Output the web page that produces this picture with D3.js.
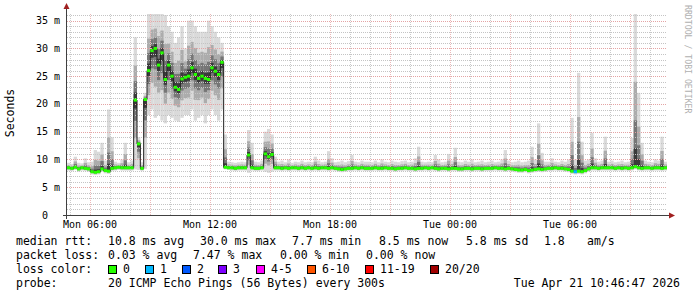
<!DOCTYPE html>
<html>
<head>
<meta charset="utf-8">
<script src="https://cdn.jsdelivr.net/npm/d3@7"></script>
<style>
  body { margin: 0; background: #fff; }
  svg { display: block; }
</style>
</head>
<body>
<div id="chart"></div>
<script>
// time window shown (30 hours), one sample every 10 minutes
const startTime = new Date(2026, 3, 20, 4, 51);
const endTime = new Date(2026, 3, 21, 10, 51);
const stepMinutes = 10;

// median rtt in ms, one row = 3 hours
const medianRtt = [
  8.5, 8.4, 8.6, 8.3, 8.5, 8.4, 8.3, 7.8, 7.7, 7.8, 8.3, 8.0, 7.9, 8.4, 8.5, 8.6, 8.5, 8.5,
  8.5, 8.5, 20.7, 12.8, 8.4, 20.8, 26.0, 29.6, 30.0, 27.0, 29.2, 24.4, 27.0, 25.0, 23.0, 22.6, 24.5, 24.8,
  25.0, 26.5, 25.3, 24.6, 25.0, 24.6, 24.4, 26.5, 25.9, 25.3, 27.5, 8.6, 8.5, 8.5, 8.4, 8.5, 8.5, 8.5,
  10.8, 8.5, 8.4, 8.4, 8.5, 11.0, 10.5, 10.9, 8.5, 8.5, 8.4, 8.5, 8.4, 8.5, 8.5, 8.4, 8.5, 8.4,
  8.5, 8.4, 8.5, 8.4, 8.5, 8.5, 8.4, 8.5, 8.4, 8.3, 8.2, 8.3, 8.4, 8.4, 8.5, 8.4, 8.5, 8.4,
  8.4, 8.4, 8.5, 8.4, 8.4, 8.5, 8.4, 8.4, 8.3, 8.4, 8.4, 8.5, 8.4, 8.4, 8.3, 8.4, 8.4, 8.5,
  8.4, 8.5, 8.4, 8.3, 8.4, 8.4, 8.3, 8.4, 8.4, 8.3, 8.3, 8.4, 8.4, 8.3, 8.4, 8.4, 8.3, 8.4,
  8.4, 8.4, 8.5, 8.4, 8.4, 8.3, 8.4, 8.3, 8.2, 8.1, 8.1, 8.2, 8.0, 8.1, 8.2, 8.3, 8.2, 8.3,
  8.4, 8.4, 8.5, 8.4, 8.4, 8.3, 8.2, 7.9, 7.8, 7.9, 7.8, 8.0, 8.3, 8.5, 8.5, 8.4, 8.5, 8.5,
  8.5, 8.5, 8.4, 8.5, 8.4, 8.5, 8.4, 8.5, 8.7, 8.5, 8.4, 8.5, 8.5, 8.4, 8.5, 8.5, 8.4, 8.5
];

// slowest ping of each sample (top of the smoke)
const smokeHigh = [
  9.4, 9.2, 10.5, 9.4, 9.3, 10.2, 9.5, 9.6, 11.7, 11.4, 13.0, 9.8, 19.0, 14.0, 9.6, 9.4, 10.0, 13.0,
  9.5, 9.8, 32.0, 14.0, 9.5, 22.0, 36.5, 36.5, 36.5, 36.5, 36.5, 36.0, 34.0, 33.0, 31.0, 32.0, 34.0, 30.0,
  35.0, 35.0, 34.0, 33.0, 33.0, 33.0, 35.0, 34.0, 33.0, 32.0, 31.0, 14.5, 9.6, 9.5, 9.4, 9.5, 9.6, 9.5,
  15.3, 13.0, 9.6, 9.5, 9.8, 15.0, 15.5, 14.5, 10.5, 9.6, 9.8, 9.5, 10.0, 9.4, 9.6, 9.5, 9.8, 9.5,
  9.6, 9.5, 10.5, 9.8, 9.5, 9.6, 11.5, 10.2, 9.5, 9.6, 9.8, 9.5, 9.7, 10.8, 9.6, 9.5, 9.8, 9.6,
  9.6, 9.5, 9.8, 9.5, 10.0, 9.6, 9.5, 9.8, 9.6, 9.5, 9.7, 9.8, 9.5, 9.6, 10.2, 12.3, 9.6, 9.5,
  9.6, 9.5, 10.8, 10.0, 9.5, 9.6, 11.0, 9.8, 12.1, 9.6, 9.5, 9.8, 9.6, 10.0, 9.5, 9.6, 9.8, 9.5,
  9.6, 9.8, 9.5, 9.6, 10.0, 11.7, 9.8, 9.5, 9.6, 9.8, 9.5, 9.6, 9.8, 12.3, 10.0, 16.5, 11.2, 9.6,
  9.6, 10.2, 9.6, 9.5, 9.8, 9.6, 10.0, 17.5, 10.0, 25.6, 13.2, 9.8, 10.0, 14.8, 10.2, 9.6, 9.8, 14.1,
  9.6, 9.8, 9.5, 9.6, 9.8, 9.5, 9.6, 13.9, 36.5, 22.0, 13.0, 9.8, 9.6, 9.5, 10.0, 9.8, 14.1, 9.6
];

// fastest ping of each sample (bottom of the smoke)
const smokeLow = [
  8.0, 7.9, 8.1, 7.8, 8.0, 7.9, 7.8, 7.3, 7.2, 7.3, 7.8, 7.5, 7.4, 7.9, 8.0, 8.1, 8.0, 8.0,
  8.0, 8.0, 8.2, 8.1, 7.9, 8.3, 18.0, 19.0, 17.5, 18.0, 17.0, 16.5, 18.0, 17.5, 17.0, 16.8, 17.5, 18.0,
  18.0, 19.0, 17.0, 17.5, 18.0, 16.5, 18.0, 19.0, 18.0, 17.0, 19.0, 8.2, 8.1, 8.0, 7.9, 8.0, 8.0, 8.0,
  7.6, 8.0, 7.9, 7.9, 8.0, 7.8, 7.6, 7.8, 8.0, 8.0, 7.9, 8.0, 7.9, 8.0, 8.0, 7.9, 8.0, 7.9,
  8.0, 7.9, 8.0, 7.9, 8.0, 8.0, 7.9, 8.0, 7.9, 7.8, 7.7, 7.8, 7.9, 7.9, 8.0, 7.9, 8.0, 7.9,
  7.9, 7.9, 8.0, 7.9, 7.9, 8.0, 7.9, 7.9, 7.8, 7.9, 7.9, 8.0, 7.9, 7.9, 7.8, 7.9, 7.9, 8.0,
  7.9, 8.0, 7.9, 7.8, 7.9, 7.9, 7.8, 7.9, 7.9, 7.8, 7.8, 7.9, 7.9, 7.8, 7.9, 7.9, 7.8, 7.9,
  7.9, 7.9, 8.0, 7.9, 7.9, 7.8, 7.9, 7.8, 7.7, 7.6, 7.6, 7.7, 7.5, 7.6, 7.7, 7.8, 7.7, 7.8,
  7.9, 7.9, 8.0, 7.9, 7.9, 7.8, 7.7, 7.4, 7.3, 7.4, 7.3, 7.5, 7.8, 8.0, 8.0, 7.9, 8.0, 8.0,
  8.0, 8.0, 7.9, 8.0, 7.9, 8.0, 7.9, 8.0, 8.2, 8.0, 7.9, 8.0, 8.0, 7.9, 8.0, 8.0, 7.9, 8.0
];

// samples that lost pings: [sample index, lost pings]
const lossSamples = [[152, 1]];

const yTickValues = [0, 5, 10, 15, 20, 25, 30, 35];

const rttLabel = 'median rtt:';
const rttStats = ['10.8 ms avg', '30.0 ms max', '7.7 ms min', '8.5 ms now', '5.8 ms sd', '1.8', 'am/s'];
const lossLabel = 'packet loss:';
const lossStats = ['0.03 % avg', '7.47 % max', '0.00 % min', '0.00 % now'];
const lossColorLabel = 'loss color:';
const lossNames = ['0', '1', '2', '3', '4-5', '6-10', '11-19', '20/20'];
const lossColors = ['#26ff00', '#00b8ff', '#0059ff', '#7e00ff', '#ff00ff', '#ff5500', '#ff0000', '#a10000'];
const probeLabel = 'probe:';
const probeText = '20 ICMP Echo Pings (56 Bytes) every 300s';
const stampText = 'Tue Apr 21 10:46:47 2026';

const width = 697, height = 297;
const plotLeft = 67, plotRight = 667, plotTop = 14, plotBottom = 215;
const mono = "'DejaVu Sans Mono', monospace";

const svg = d3.select('#chart').append('svg')
    .attr('width', width)
    .attr('height', height)
    .style('background', '#fff');

const x = d3.scaleTime().domain([startTime, endTime]).range([plotLeft, plotRight]);
const y = d3.scaleLinear().domain([0, 36.2]).range([plotBottom, plotTop]);

const samples = medianRtt.map((m, i) => ({
    t0: d3.timeMinute.offset(startTime, i * stepMinutes),
    t1: d3.timeMinute.offset(startTime, (i + 1) * stepMinutes),
    med: m,
    hi: smokeHigh[i],
    lo: smokeLow[i],
    loss: 0
}));
lossSamples.forEach(([i, n]) => { samples[i].loss = n; });

svg.append('defs').append('clipPath').attr('id', 'plot')
  .append('rect')
    .attr('x', plotLeft).attr('y', plotTop)
    .attr('width', plotRight - plotLeft).attr('height', plotBottom - plotTop);

// smoke: layered bands around the median, darker towards the centre
const bandShares = [1, 0.55, 0.3, 0.12];
const bandColors = ['#dadada', '#acacac', '#767676', '#3a3a3a'];
const smoke = svg.append('g').attr('clip-path', 'url(#plot)');
bandShares.forEach((f, k) => {
    smoke.append('g').selectAll('rect')
        .data(samples)
        .join('rect')
        .attr('x', d => x(d.t0))
        .attr('width', d => x(d.t1) - x(d.t0))
        .attr('y', d => y(d.med + (d.hi - d.med) * f))
        .attr('height', d => y(d.med - (d.med - d.lo) * f) - y(d.med + (d.hi - d.med) * f))
        .attr('fill', bandColors[k]);
});

// grid
const grid = svg.append('g').attr('shape-rendering', 'crispEdges');
d3.range(1, 37).forEach(v => {
    if (y(v) < plotTop) return;
    grid.append('line')
        .attr('x1', plotLeft).attr('x2', plotRight)
        .attr('y1', Math.round(y(v)) + 0.5).attr('y2', Math.round(y(v)) + 0.5)
        .attr('stroke', v % 5 === 0 ? '#e4a4a4' : '#c4c4c4')
        .attr('stroke-dasharray', '1,1');
});
x.ticks(d3.timeHour.every(1)).forEach(t => {
    const major = t.getHours() % 3 === 0;
    grid.append('line')
        .attr('x1', Math.round(x(t)) + 0.5).attr('x2', Math.round(x(t)) + 0.5)
        .attr('y1', plotTop).attr('y2', plotBottom)
        .attr('stroke', major ? '#ecb8b8' : '#cacaca')
        .attr('stroke-dasharray', '1,1');
});

// median line: dark steps, coloured by loss on the flat parts
const stepLine = d3.line()
    .x(d => x(d[0]))
    .y(d => y(d[1]))
    .curve(d3.curveStepAfter);
const stepPoints = samples.map(d => [d.t0, d.med]);
stepPoints.push([endTime, samples[samples.length - 1].med]);
svg.append('path')
    .attr('d', stepLine(stepPoints))
    .attr('fill', 'none')
    .attr('stroke', '#202020')
    .attr('stroke-width', 1);

svg.append('g').selectAll('line')
    .data(samples)
    .join('line')
    .attr('x1', d => x(d.t0))
    .attr('x2', d => x(d.t1))
    .attr('y1', d => y(d.med))
    .attr('y2', d => y(d.med))
    .attr('stroke', d => lossColors[Math.min(d.loss, 3)])
    .attr('stroke-width', 3);

// axes
const axes = svg.append('g').attr('shape-rendering', 'crispEdges');
axes.append('line')
    .attr('x1', plotLeft - 0.5).attr('x2', plotLeft - 0.5)
    .attr('y1', plotBottom + 4).attr('y2', plotTop - 6)
    .attr('stroke', '#404040');
axes.append('line')
    .attr('x1', plotLeft - 4).attr('x2', plotRight + 4)
    .attr('y1', plotBottom + 0.5).attr('y2', plotBottom + 0.5)
    .attr('stroke', '#404040');
svg.append('path')
    .attr('d', `M${plotLeft - 3.5},${plotTop - 5} L${plotLeft + 2.5},${plotTop - 5} L${plotLeft - 0.5},${plotTop - 11} Z`)
    .attr('fill', '#a02020');
svg.append('path')
    .attr('d', `M${plotRight + 2},${plotBottom - 2.5} L${plotRight + 2},${plotBottom + 3.5} L${plotRight + 8},${plotBottom + 0.5} Z`)
    .attr('fill', '#a02020');

// y labels
svg.append('g').selectAll('text')
    .data(yTickValues)
    .join('text')
    .attr('x', 60)
    .attr('y', d => y(d))
    .attr('dy', '0.35em')
    .attr('dx', d => d === 0 ? -12 : 0)
    .attr('text-anchor', 'end')
    .style('font-family', mono)
    .style('font-size', '10px')
    .attr('fill', '#000')
    .text(d => d === 0 ? '0' : `${d} m`);

// x labels
const labelTimes = x.ticks(d3.timeHour.every(6));
svg.append('g').selectAll('text')
    .data(labelTimes)
    .join('text')
    .attr('x', d => x(d))
    .attr('y', 228)
    .attr('text-anchor', 'middle')
    .style('font-family', mono)
    .style('font-size', '10px')
    .attr('fill', '#000')
    .text(d => d3.timeFormat('%a %H:%M')(d));

// titles
svg.append('text')
    .attr('transform', 'translate(14,113) rotate(-90)')
    .attr('text-anchor', 'middle')
    .style('font-family', mono)
    .style('font-size', '11.5px')
    .text('Seconds');
svg.append('text')
    .attr('transform', 'translate(685,5) rotate(90)')
    .attr('text-anchor', 'start')
    .style('font-family', mono)
    .style('font-size', '8.2px')
    .attr('fill', '#b0b0b0')
    .text('RRDTOOL / TOBI OETIKER');

// legend
const legend = svg.append('g')
    .style('font-family', mono)
    .style('font-size', '11.5px')
    .attr('fill', '#000');
const put = (tx, ty, s, anchor) => legend.append('text')
    .attr('x', tx).attr('y', ty)
    .attr('text-anchor', anchor || 'start')
    .text(s);

put(16, 245, rttLabel);
[108, 200, 292, 379, 466, 544, 587].forEach((px, i) => put(px, 245, rttStats[i]));
put(16, 259, lossLabel);
[108, 193, 280, 366].forEach((px, i) => put(px, 259, lossStats[i]));
put(16, 273, lossColorLabel);
const boxX = [108, 145, 182, 218, 256, 307, 365, 430];
lossNames.forEach((name, i) => {
    legend.append('rect')
        .attr('x', boxX[i] + 0.5).attr('y', 265.5)
        .attr('width', 8).attr('height', 8)
        .attr('fill', lossColors[i])
        .attr('stroke', '#000');
    put(boxX[i] + 15, 273, name);
});
put(16, 287, probeLabel);
put(108, 287, probeText);
put(680, 287, stampText, 'end');
</script>
</body>
</html>
